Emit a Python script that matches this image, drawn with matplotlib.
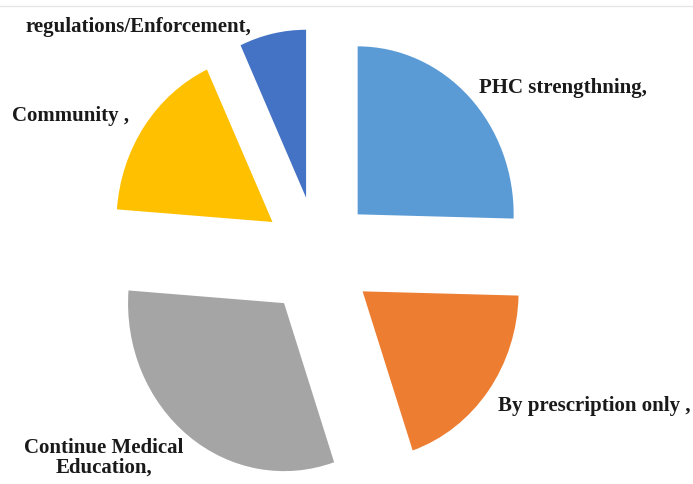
import matplotlib
matplotlib.use("Agg")
import matplotlib.pyplot as plt
from matplotlib.lines import Line2D

# ======================================================
# Data
# ======================================================

labels = [
    "PHC strengthning,",
    "By prescription only ,",
    "Continue Medical\nEducation,",
    "Community ,",
    "regulations/Enforcement,",
]
shares = [25.4, 19.4, 31.4, 16.9, 6.9]
colors = ["#5B9BD5", "#ED7D31", "#A5A5A5", "#FFC000", "#4472C4"]
explode = [0.355] * len(shares)

# ======================================================
# Figure
# ======================================================

W, H = 693, 485
fig = plt.figure(figsize=(W / 100, H / 100), dpi=100)
ax = fig.add_axes([0, 0, 1, 1])

ax.pie(
    shares,
    colors=colors,
    explode=explode,
    startangle=90,
    counterclock=False,
    radius=1,
)

# stretched pie (wider units in y than x)
cx, cy = 318, 257
rx, ry = 156, 168
ax.set_aspect("auto")
ax.set_xlim(-cx / rx, (W - cx) / rx)
ax.set_ylim(-(H - cy) / ry, cy / ry)
ax.axis("off")

# ======================================================
# Labels
# ======================================================

font = dict(family="Liberation Serif", fontweight="bold", fontsize=15, color="#1a1a1a")

def px(x, y):
    return x / W, 1 - y / H

fig.text(*px(479, 88), labels[0], ha="left", va="center", **font)
fig.text(*px(498, 406), labels[1], ha="left", va="center", **font)
fig.text(*px(104, 458), labels[2], ha="center", va="center",
         linespacing=0.95, **font)
fig.text(*px(12, 116), labels[3], ha="left", va="center", **font)
fig.text(*px(26, 27), labels[4], ha="left", va="center", **font)

# thin border line at the top of the cropped screenshot
fig.add_artist(Line2D([0, 1], [1 - 7 / H, 1 - 7 / H], color="#e6e6e6",
                      lw=1, transform=fig.transFigure))

fig.savefig("out.png", dpi=100)
